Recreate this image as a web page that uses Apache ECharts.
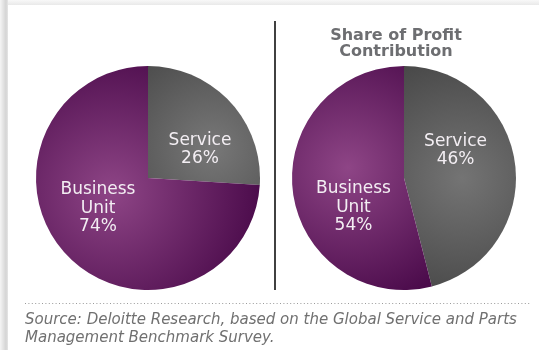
<!DOCTYPE html>
<html>
<head>
<meta charset="utf-8">
<script src="https://cdn.jsdelivr.net/npm/echarts@6/dist/echarts.min.js"></script>
<style>
  html, body { margin: 0; padding: 0; background: #fff; }
  #chart { width: 539px; height: 350px; }
</style>
</head>
<body>
<div id="chart"></div>
<script>
// Segment names and shares (%)
const categories = ['Service', 'Business\nUnit'];
const revenueShare = [26, 74];
const profitShare = [46, 54];
const rightTitle = 'Share of Profit\nContribution';
const sourceNote = 'Source: Deloitte Research, based on the Global Service and Parts\nManagement Benchmark Survey.';

const FONT = '"DejaVu Sans", sans-serif';

function radial(cx, cy, r, inner, outer) {
  return {
    type: 'radial', x: cx, y: cy, r: r, global: true,
    colorStops: [{ offset: 0, color: inner }, { offset: 1, color: outer }]
  };
}

// per-slice fill and label nudge, in category order
const leftStyles = [
  { color: radial(212, 148, 120, '#787878', '#474747'), offset: [9, 12] },
  { color: radial(112, 192, 150, '#8e4586', '#4b0b4b'), offset: [-7, -10] }
];
const rightStyles = [
  { color: radial(462, 178, 135, '#747474', '#454545'), offset: [-7, -20] },
  { color: radial(348, 168, 140, '#8e4586', '#4b0b4b'), offset: [8, 22] }
];

function pieSeries(values, styles, center) {
  return {
    type: 'pie',
    center: center,
    radius: 112,
    startAngle: 90,
    clockwise: true,
    silent: true,
    animation: false,
    label: {
      show: true,
      position: 'inside',
      formatter: p => p.name + '\n' + p.value + '%',
      color: '#f3eef3',
      fontFamily: FONT,
      fontSize: 17,
      lineHeight: 18.5
    },
    labelLine: { show: false },
    itemStyle: { borderWidth: 0 },
    data: categories.map((c, i) => ({
      name: c,
      value: values[i],
      itemStyle: { color: styles[i].color },
      label: { offset: styles[i].offset }
    }))
  };
}

const chart = echarts.init(document.getElementById('chart'), null, { renderer: 'canvas' });
chart.setOption({
  backgroundColor: '#ffffff',
  title: {
    text: rightTitle,
    left: 391,
    top: 23,
    textAlign: 'center',
    textStyle: {
      fontFamily: FONT,
      fontWeight: 'bold',
      fontSize: 16,
      lineHeight: 16,
      color: '#6d6e71'
    }
  },
  graphic: [
    // card shadow along the left and top edges
    {
      type: 'rect', left: 0, top: 0, z: -1,
      shape: { width: 8, height: 350 },
      style: {
        fill: { type: 'linear', x: 0, y: 0, x2: 1, y2: 0,
          colorStops: [{ offset: 0, color: '#f5f5f5' }, { offset: 0.75, color: '#d4d4d4' }, { offset: 1, color: '#e6e6e6' }] }
      }
    },
    {
      type: 'rect', left: 8, top: 0, z: -1,
      shape: { width: 531, height: 5 },
      style: {
        fill: { type: 'linear', x: 0, y: 0, x2: 0, y2: 1,
          colorStops: [{ offset: 0, color: '#f8f8f8' }, { offset: 1, color: '#e9e9e9' }] }
      }
    },
    // divider between the two pies
    {
      type: 'line',
      shape: { x1: 275, y1: 21, x2: 275, y2: 290 },
      style: { stroke: '#111', lineWidth: 1.6 }
    },
    // dotted rule above the source note
    {
      type: 'line',
      shape: { x1: 25, y1: 303.5, x2: 530, y2: 303.5 },
      style: { stroke: '#9a9a9a', lineWidth: 1, lineDash: [1, 2.4] }
    },
    {
      type: 'text',
      left: 25, top: 311,
      style: {
        text: sourceNote,
        fontFamily: FONT,
        fontStyle: 'italic',
        fontSize: 15,
        lineHeight: 18,
        fill: '#707070'
      }
    }
  ],
  series: [
    pieSeries(revenueShare, leftStyles, [148, 178]),
    pieSeries(profitShare, rightStyles, [404, 178])
  ]
});
</script>
</body>
</html>
